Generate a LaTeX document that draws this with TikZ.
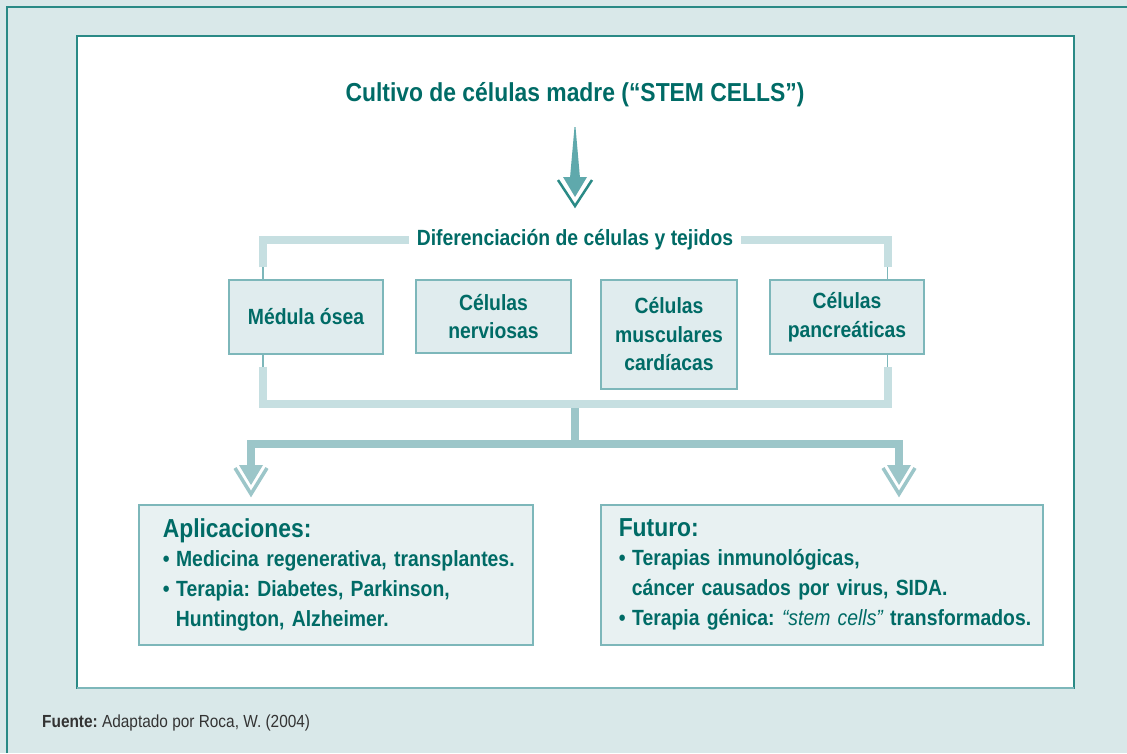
\documentclass[tikz,border=0pt]{standalone}
\usepackage{fontspec}
\setmainfont{Liberation Sans}[FakeStretch=0.88]
\usetikzlibrary{positioning}
\definecolor{panel}{HTML}{D9E8E9}
\definecolor{frame}{HTML}{2A8A86}
\definecolor{ink}{HTML}{006B66}
\definecolor{boxfill}{HTML}{E0ECEE}
\definecolor{usefill}{HTML}{E8F1F2}
\definecolor{boxline}{HTML}{7DB7BA}
\definecolor{barlight}{HTML}{C6DFE1}
\definecolor{bardark}{HTML}{9CC6C9}
\definecolor{arrowfill}{HTML}{5FA9AC}
\definecolor{note}{HTML}{333333}
\frenchspacing
\newcommand{\itembul}{•\hspace{0.3em}}
\tikzset{
	cellbox/.style = {
		draw=boxline, line width=1.5, fill=boxfill, text=ink, inner sep=0pt,
		align=center, font=\bfseries\fontsize{22}{28.5}\selectfont
	},
	usebox/.style = {
		draw=boxline, line width=1.5, fill=usefill, text=ink, anchor=north west,
		inner ysep=0pt, minimum height=140, align=left,
		font=\bfseries\fontsize{22}{30}\selectfont
	},
	lightbar/.style = {barlight, line width=8},
	darkbar/.style = {bardark, line width=8},
	thinbar/.style = {boxline, line width=1.2},
	vhead/.pic = {
		\fill [bardark] (-12, 0) -- (12, 0) -- (0, 20) -- cycle;
		\draw [bardark, line width=3.5] (-16, 3) -- (0, 29) -- (16, 3);
	}
}

\begin{document}
\begin{tikzpicture}[x=1pt, y=-1pt]
	\useasboundingbox (0, 0) rectangle (1127, 753);
	\fill [panel] (0, 0) rectangle (1127, 753);
	\draw [frame, line width=1.5] (7, 753) -- (7, 7) -- (1127, 7);
	\draw [frame, fill=white, line width=1.5] (77, 36) rectangle (1074, 688);
	\draw [boxline, line width=1.5] (77, 688) -- (1074, 688);

	\node [text=ink, font=\bfseries\fontsize{26}{30}\selectfont] (title) at (575, 95) {Cultivo de células madre (“STEM CELLS”)};
	\fill [arrowfill] (574.5, 127) -- (575.5, 127) -- (580, 178) -- (570, 178) -- cycle;
	\fill [arrowfill] (563, 177) -- (587, 177) -- (575, 197) -- cycle;
	\draw [frame, line width=2.5] (558, 180) -- (575, 206) -- (592, 180);

	\node [text=ink, inner xsep=8pt, font=\bfseries\fontsize{22}{26}\selectfont] (diff) at (575, 240) {Diferenciación de células y tejidos};

	\node [cellbox, minimum width=154, minimum height=74] (medula) at (306, 317) {Médula ósea};
	\node [cellbox, minimum width=155, minimum height=73] (nerv) at (493.5, 316.5) {Células\\nerviosas};
	\node [cellbox, minimum width=136, minimum height=109] (musc) at (669, 334.5) {Células\\musculares\\cardíacas};
	\node [cellbox, minimum width=154, minimum height=74] (panc) at (847, 317) {Células\\pancreáticas};

	\coordinate (mt) at ([xshift=-43pt]medula.north);
	\coordinate (mb) at ([xshift=-43pt]medula.south);
	\coordinate (pt) at ([xshift=40.5pt]panc.north);
	\coordinate (pb) at ([xshift=40.5pt]panc.south);
	\coordinate (hub) at (575, 407);
	\coordinate (split) at (575, 443.5);
	\coordinate (tipL) at (251, 465);
	\coordinate (tipR) at (899, 465);

	\draw [thinbar] (mt) -- ++(0, -12);
	\draw [thinbar] (pt) -- ++(0, -12);
	\draw [thinbar] (mb) -- ++(0, 12);
	\draw [thinbar] (pb) -- ++(0, 12);
	\draw [lightbar] ([yshift=12pt]mt) |- (diff.west);
	\draw [lightbar] ([yshift=12pt]pt) |- (diff.east);

	\draw [darkbar] (hub) -- (split);
	\draw [darkbar] (tipL) |- (split) -| (tipR);
	\draw [lightbar] ([yshift=-12pt]mb) |- ([yshift=3.5pt]hub) -| ([yshift=-12pt]pb);
	\pic at (tipL) {vhead};
	\pic at (tipR) {vhead};

	\node [usebox, inner xsep=24pt, text width=346] (apl) at (138, 504) {%
		{\fontsize{26}{30}\selectfont Aplicaciones:}\\[-1pt]
		\mbox{\itembul Medicina regenerativa, transplantes.}\\
		\mbox{\itembul Terapia: Diabetes, Parkinson,}\\
		\mbox{\hspace*{0.6em}Huntington, Alzheimer.}};
	\node [usebox, inner xsep=18pt, text width=406] (fut) at (600, 504) {%
		{\fontsize{26}{30}\selectfont Futuro:}\\[-1pt]
		\mbox{\itembul Terapias inmunológicas,}\\
		\mbox{\hspace*{0.6em}cáncer causados por virus, SIDA.}\\
		\mbox{\itembul Terapia génica: {\mdseries\itshape “stem cells”} transformados.}};

	\node [anchor=west, inner sep=0pt, text=note, font=\fontsize{17.5}{20}\selectfont] (src) at (42, 723) {\textbf{Fuente:} Adaptado por Roca, W. (2004)};
\end{tikzpicture}
\end{document}
